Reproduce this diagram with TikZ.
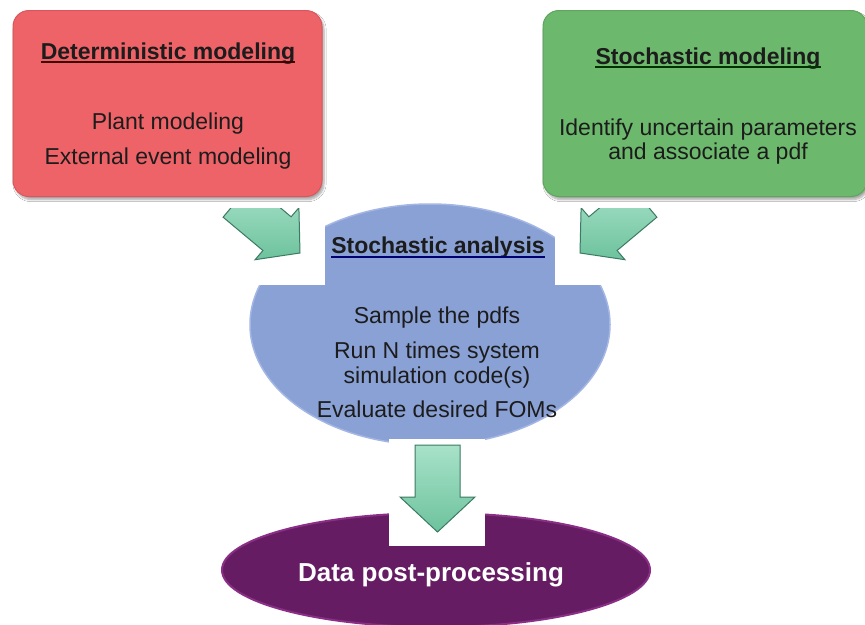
\documentclass[tikz,border=0pt]{standalone}
\usepackage{fontspec}
\setmainfont{Liberation Sans}
\usetikzlibrary{shapes.geometric,shadows.blur}
\definecolor{redfill}{HTML}{EE6368}
\definecolor{reddraw}{HTML}{D9575C}
\definecolor{greenfill}{HTML}{6CB86C}
\definecolor{greendraw}{HTML}{5EA55E}
\definecolor{bluefill}{HTML}{8AA1D6}
\definecolor{bluedraw}{HTML}{A3B6E4}
\definecolor{purplefill}{HTML}{661C63}
\definecolor{purpledraw}{HTML}{8A2E86}
\definecolor{mintlight}{HTML}{A8E2C9}
\definecolor{mintdark}{HTML}{6DC29D}
\definecolor{mintedge}{HTML}{3C7A63}
\definecolor{txt}{HTML}{1C1C1C}
\tikzset{
  modelbox/.style={rounded corners=16pt, line width=1pt, inner sep=0pt,
    blur shadow={shadow xshift=2pt, shadow yshift=-3pt, shadow opacity=35, shadow blur steps=6}},
  txtline/.style={anchor=base, inner sep=0pt, text=txt, font=\fontsize{23}{25}\selectfont},
  titleline/.style={txtline, font=\fontsize{23}{25}\selectfont\bfseries},
  ulline/.style={line width=1.8pt},
  blockarrow/.style={top color=mintlight, bottom color=mintdark, draw=mintedge, line width=1pt, line join=miter},
  whitepatch/.style={fill=white, draw=none}
}
\begin{document}
\begin{tikzpicture}[x=1pt,y=-1pt]
\useasboundingbox (0,0) rectangle (865,624);
\fill[white] (0,0) rectangle (865,624);

% boxes
\node[modelbox, fill=redfill, draw=reddraw, minimum width=309pt, minimum height=186pt] (det) at (167.5,103.5) {};
\node[modelbox, fill=greenfill, draw=greendraw, minimum width=324pt, minimum height=186pt] (sto) at (705,103.5) {};

% ellipses
\node[ellipse, fill=bluefill, draw=bluedraw, line width=1.5pt, inner sep=0pt,
      minimum width=360pt, minimum height=241pt] (ana) at (430,324.5) {};
\node[ellipse, fill=purplefill, draw=purpledraw, line width=2pt, inner sep=0pt,
      minimum width=428pt, minimum height=114pt] (post) at (436,570) {};

% white patches behind the arrows
\fill[whitepatch] (205,208) rectangle (325,285);
\fill[whitepatch] (555,208) rectangle (675,285);
\fill[whitepatch] (389,439) rectangle (485,546);

% arrows
\begin{scope}
\clip (0,208) rectangle (865,624);
\coordinate (lT) at (300,253);
\coordinate (lB1) at (298.9,207.7);
\coordinate (lI1) at (291.1,216.8);
\coordinate (lU) at (251.3,183.4);
\coordinate (lL) at (223.1,217.2);
\coordinate (lI2) at (262.9,250.5);
\coordinate (lB2) at (255.1,259.7);
\draw[blockarrow] (lT) -- (lB1) -- (lI1) -- (lU) -- (lL) -- (lI2) -- (lB2) -- cycle;
\coordinate (rT) at (580,253);
\coordinate (rB1) at (581.1,207.7);
\coordinate (rI1) at (588.9,216.8);
\coordinate (rU) at (628.7,183.4);
\coordinate (rL) at (656.9,217.2);
\coordinate (rI2) at (617.1,250.5);
\coordinate (rB2) at (624.9,259.7);
\draw[blockarrow] (rT) -- (rB1) -- (rI1) -- (rU) -- (rL) -- (rI2) -- (rB2) -- cycle;
\end{scope}
\coordinate (dT1) at (415,445);
\coordinate (dT2) at (460,445);
\coordinate (dI2) at (460,497);
\coordinate (dB2) at (475,497);
\coordinate (dTip) at (437.5,532);
\coordinate (dB1) at (400,497);
\coordinate (dI1) at (415,497);
\draw[blockarrow] (dT1) -- (dT2) -- (dI2) -- (dB2) -- (dTip) -- (dB1) -- (dI1) -- cycle;

% texts: deterministic
\node[titleline] (dett) at (168,59) {Deterministic modeling};
\draw[ulline, draw=black!75!red] ([yshift=-3pt]dett.base west) -- ([yshift=-3pt]dett.base east);
\node[txtline] (det1) at (168,129) {Plant modeling};
\node[txtline] (det2) at (168,164) {External event modeling};

% texts: stochastic modeling
\node[titleline] (stot) at (708,64) {Stochastic modeling};
\draw[ulline, draw=black!80!green] ([yshift=-3pt]stot.base west) -- ([yshift=-3pt]stot.base east);
\node[txtline] (sto1) at (708,135) {Identify uncertain parameters};
\node[txtline] (sto2) at (708,159) {and associate a pdf};

% texts: stochastic analysis
\node[titleline] (anat) at (438,253) {Stochastic analysis};
\draw[ulline, draw=blue!45!black] ([yshift=-4pt]anat.base west) -- ([yshift=-4pt]anat.base east);
\node[txtline] (ana1) at (437,323) {Sample the pdfs};
\node[txtline] (ana2) at (437,358) {Run N times system};
\node[txtline] (ana3) at (437,383) {simulation code(s)};
\node[txtline] (ana4) at (437,417) {Evaluate desired FOMs};

% post processing
\node[anchor=base, inner sep=0pt, text=white, font=\fontsize{26}{28}\selectfont\bfseries] (postt) at (431,581) {Data post-processing};
\end{tikzpicture}
\end{document}
